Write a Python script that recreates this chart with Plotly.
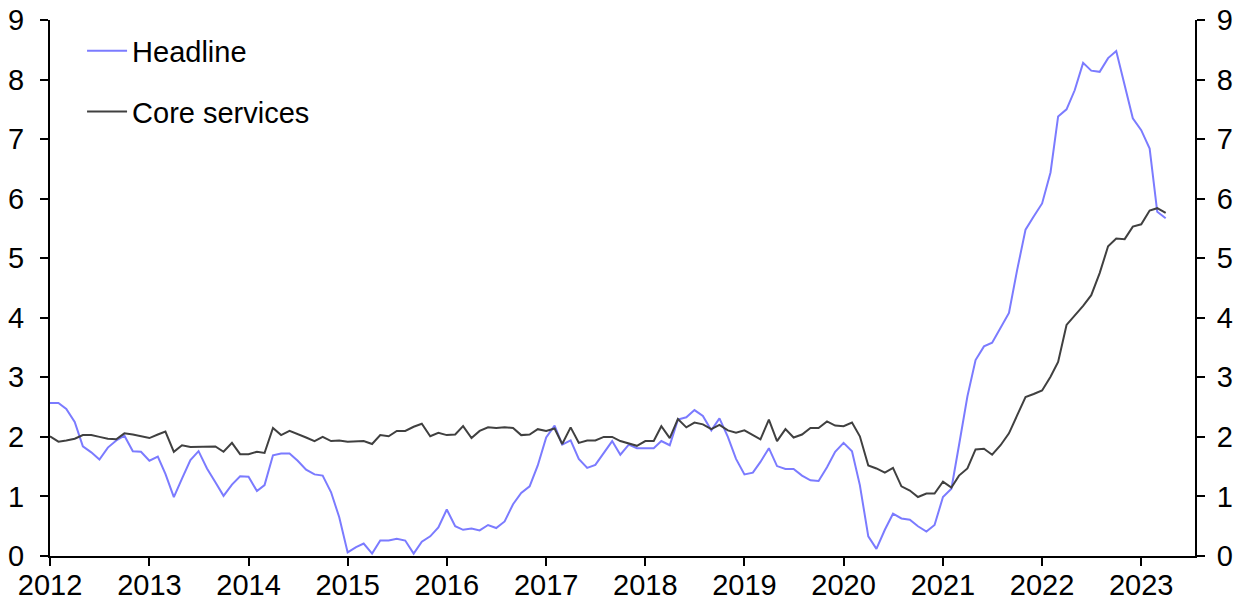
import pandas as pd
import plotly.graph_objects as go

start_month = "2012-01-01"
n_months = 136

headline = [
    2.57, 2.57, 2.47, 2.25, 1.84, 1.74, 1.62, 1.82, 1.94, 2.02, 1.76, 1.75,
    1.60, 1.67, 1.38, 0.99, 1.30, 1.61, 1.76, 1.47, 1.24, 1.01, 1.20, 1.34,
    1.33, 1.09, 1.19, 1.69, 1.72, 1.72, 1.60, 1.45, 1.37, 1.35, 1.07, 0.65,
    0.06, 0.15, 0.21, 0.04, 0.26, 0.26, 0.29, 0.26, 0.04, 0.24, 0.33, 0.48,
    0.78, 0.50, 0.44, 0.46, 0.43, 0.52, 0.47, 0.58, 0.87, 1.06, 1.17, 1.52,
    1.99, 2.19, 1.87, 1.94, 1.63, 1.48, 1.53, 1.73, 1.93, 1.70, 1.87, 1.81,
    1.81, 1.81, 1.93, 1.86, 2.29, 2.33, 2.45, 2.35, 2.11, 2.31, 2.00, 1.63,
    1.37, 1.40, 1.58, 1.81, 1.51, 1.46, 1.46, 1.35, 1.27, 1.26, 1.49, 1.75,
    1.90, 1.76, 1.19, 0.33, 0.12, 0.44, 0.71, 0.63, 0.61, 0.50, 0.41, 0.52,
    0.99, 1.13, 1.86, 2.68, 3.29, 3.52, 3.58, 3.82, 4.08, 4.80, 5.48, 5.70,
    5.92, 6.44, 7.38, 7.50, 7.82, 8.28, 8.15, 8.13, 8.36, 8.48, 7.91, 7.35,
    7.15, 6.84, 5.78, 5.67,
]

core_services = [
    2.01, 1.92, 1.94, 1.97, 2.03, 2.03, 2.00, 1.97, 1.96, 2.06, 2.04, 2.01,
    1.98, 2.04, 2.09, 1.75, 1.86, 1.83, 1.83, 1.83, 1.84, 1.75, 1.90, 1.71,
    1.71, 1.75, 1.73, 2.15, 2.03, 2.10, 2.04, 1.99, 1.93, 2.00, 1.93, 1.94,
    1.92, 1.93, 1.93, 1.88, 2.03, 2.01, 2.10, 2.10, 2.17, 2.22, 2.01, 2.07,
    2.03, 2.04, 2.18, 1.98, 2.10, 2.16, 2.15, 2.16, 2.15, 2.03, 2.04, 2.13,
    2.10, 2.14, 1.88, 2.16, 1.90, 1.94, 1.94, 2.00, 2.00, 1.93, 1.89, 1.85,
    1.93, 1.93, 2.18, 1.98, 2.30, 2.16, 2.24, 2.21, 2.13, 2.20, 2.11, 2.07,
    2.11, 2.03, 1.96, 2.29, 1.93, 2.13, 1.99, 2.04, 2.15, 2.15, 2.26, 2.19,
    2.18, 2.24, 2.01, 1.52, 1.47, 1.40, 1.48, 1.17, 1.10, 0.99, 1.05, 1.05,
    1.25, 1.15, 1.35, 1.47, 1.79, 1.80, 1.70, 1.86, 2.06, 2.36, 2.67, 2.72,
    2.78, 3.01, 3.26, 3.88, 4.04, 4.20, 4.38, 4.75, 5.20, 5.33, 5.32, 5.53,
    5.57, 5.80, 5.84, 5.76,
]

year_ticks = [f"{y}-01-01" for y in range(2012, 2024)]
year_labels = [str(y) for y in range(2012, 2024)]
y_ticks = list(range(0, 10))

dates = pd.date_range(start_month, periods=n_months, freq="MS")

FONT = "Arial, Liberation Sans, sans-serif"

fig = go.Figure()
fig.add_trace(go.Scatter(x=dates, y=headline, mode="lines", name="Headline",
                         line=dict(color="#7B7BFF", width=2), legendgroup="a"))
fig.add_trace(go.Scatter(x=dates, y=core_services, mode="lines", name="Core services",
                         line=dict(color="#404040", width=2), legendgroup="b",
                         yaxis="y2"))

axis_common = dict(showline=True, linecolor="black", linewidth=2, ticks="outside",
                   ticklen=8, tickwidth=2, tickcolor="black", showgrid=False,
                   zeroline=False, automargin=False, ticklabeloverflow="allow",
                   tickfont=dict(family=FONT, size=29, color="black"))

# the page adds an 8px body margin, so the figure is sized to fit inside the window
fig.update_layout(
    width=1237, height=597,
    margin=dict(l=42, r=50, t=12, b=49),
    paper_bgcolor="white", plot_bgcolor="white",
    font=dict(family=FONT, size=29, color="black"),
    xaxis=dict(range=["2012-01-01", "2023-07-18"], tickvals=year_ticks, ticktext=year_labels,
               ticklabelstandoff=-6, **axis_common),
    yaxis=dict(range=[0, 9], tickvals=y_ticks, ticklabelstandoff=10, **axis_common),
    yaxis2=dict(range=[0, 9], tickvals=y_ticks, overlaying="y", side="right",
                ticklabelstandoff=6, **axis_common),
    showlegend=True,
    legend=dict(x=0.028, y=0.99, xanchor="left", yanchor="top", bgcolor="rgba(0,0,0,0)",
                font=dict(family=FONT, size=29, color="black"), itemwidth=40,
                tracegroupgap=20),
)

fig.write_html("out.html")
